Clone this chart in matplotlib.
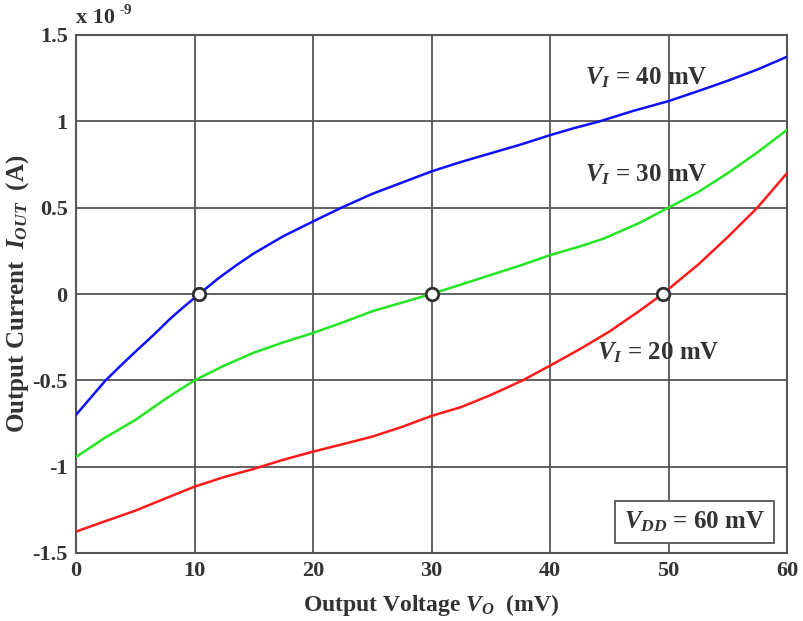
import numpy as np
import matplotlib.pyplot as plt

plt.rcParams['font.family'] = ['Liberation Serif', 'DejaVu Serif']
plt.rcParams['font.weight'] = 'bold'
plt.rcParams['mathtext.fontset'] = 'custom'
plt.rcParams['mathtext.rm'] = 'Liberation Serif:bold'
plt.rcParams['mathtext.it'] = 'Liberation Serif:italic:bold'
plt.rcParams['mathtext.bf'] = 'Liberation Serif:bold'

# output voltage (mV) and output current (x 1e-9 A) for each input voltage
vo_40 = [0, 1, 2.5, 4, 5, 6.5, 8, 9, 10.4, 12, 13.5, 15, 17.5, 20, 22.4, 25, 27.5, 30,
         32.5, 35, 37.5, 40, 42, 44.2, 47, 50, 52.5, 55, 57.5, 60]
io_40 = [-0.70, -0.62, -0.50, -0.40, -0.335, -0.24, -0.14, -0.08, 0.0, 0.09, 0.165, 0.235,
         0.335, 0.42, 0.50, 0.58, 0.645, 0.71, 0.765, 0.815, 0.865, 0.92, 0.96, 1.0, 1.06,
         1.117, 1.175, 1.235, 1.30, 1.374]

vo_30 = [0, 2.5, 5, 7.5, 10, 12.5, 15, 17.5, 20, 22.5, 25, 27.5, 30, 32.5, 35, 37.5, 40,
         42.5, 44.5, 47.5, 50, 52.5, 55, 57.5, 60]
io_30 = [-0.944, -0.83, -0.73, -0.61, -0.50, -0.415, -0.34, -0.28, -0.226, -0.165, -0.10,
         -0.05, 0.0, 0.055, 0.11, 0.165, 0.225, 0.275, 0.32, 0.41, 0.50, 0.59, 0.70, 0.82, 0.95]

vo_20 = [0, 2.5, 5, 7.5, 10, 12.5, 15, 17.5, 20, 22.5, 25, 27.5, 30, 32.5, 35, 37.7, 40,
         42.5, 45, 47.5, 49.5, 52.5, 55, 57.5, 60]
io_20 = [-1.376, -1.315, -1.255, -1.185, -1.116, -1.06, -1.013, -0.96, -0.913, -0.87, -0.826,
         -0.77, -0.706, -0.655, -0.585, -0.50, -0.415, -0.32, -0.218, -0.10, 0.0, 0.17, 0.33,
         0.50, 0.70]

# zero-current operating points
zero_vo = [10.4, 30, 49.5]
zero_io = [0, 0, 0]

text_col = '#333333'
grid_col = '#555555'

fig = plt.figure(figsize=(8.04, 6.21), dpi=100)
ax = fig.add_axes([76 / 804, 1 - 553 / 621, (787 - 76) / 804, (553 - 35) / 621])

ax.plot(vo_40, io_40, color='#1010ff', lw=1.8, zorder=3)
ax.plot(vo_30, io_30, color='#22e622', lw=1.8, zorder=3)
ax.plot(vo_20, io_20, color='#ff1a1a', lw=1.8, zorder=3)
ax.plot(zero_vo, zero_io, 'o', ms=9, mfc='white', mec='#303030', mew=2, zorder=4)

ax.set_xlim(0, 60)
ax.set_ylim(-1.5, 1.5)
ax.set_xticks(np.arange(0, 61, 10))
ax.set_yticks([-1.5, -1, -0.5, 0, 0.5, 1, 1.5])
ax.set_yticklabels(['-1.5', '-1', '-0.5', '0', '0.5', '1', '1.5'])
ax.grid(True, color=grid_col, lw=1.3)
for s in ax.spines.values():
    s.set_color(grid_col)
    s.set_linewidth(1.5)
ax.tick_params(length=0, labelsize=16, labelcolor=text_col, pad=6)

ax.set_xlabel('Output Voltage $V_O$  (mV)', fontsize=17, fontweight='bold',
              color=text_col, labelpad=8)
ax.set_ylabel('Output Current  $I_{OUT}$  (A)', fontsize=18, fontweight='bold',
              color=text_col, va='center')
ax.yaxis.set_label_coords(-58 / 711, 0.5)

# exponent note above the y axis
fig.text(76 / 804, 1 - 18 / 621, 'x 10', fontsize=16, color=text_col,
         ha='left', va='center')
fig.text(120 / 804, 1 - 10 / 621, '-9', fontsize=11, color=text_col,
         ha='left', va='center')

ax.text(48.1, 1.25, '$V_I$ = 40 mV', fontsize=18, color=text_col, ha='center', va='center')
ax.text(48.1, 0.69, '$V_I$ = 30 mV', fontsize=18, color=text_col, ha='center', va='center')
ax.text(49.1, -0.34, '$V_I$ = 20 mV', fontsize=18, color=text_col, ha='center', va='center')
ax.text(52.2, -1.32, '$V_{DD}$ = 60 mV', fontsize=18, color=text_col, ha='center', va='center',
        bbox=dict(boxstyle='square,pad=0.35', fc='white', ec=grid_col, lw=1.3))

fig.savefig('out.png', dpi=100)
